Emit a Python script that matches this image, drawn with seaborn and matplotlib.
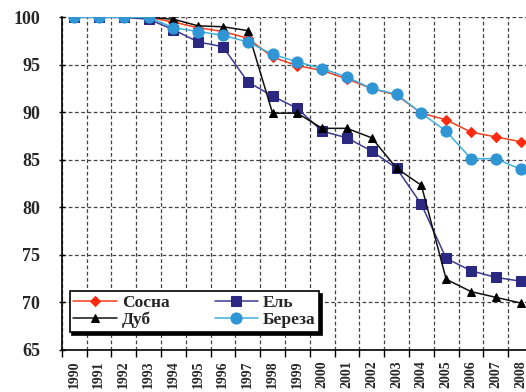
import numpy as np
import pandas as pd
import seaborn as sns
import matplotlib.pyplot as plt
from matplotlib.ticker import FixedLocator

# Data (index, 1990 = 100)
years = [str(y) for y in range(1990, 2009)]
sosna = [100, 100, 100, 100, 99.5, 98.9, 98.5, 97.8, 95.8, 94.9, 94.4, 93.5,
         92.5, 91.8, 89.9, 89.2, 87.9, 87.4, 86.9]
el = [100, 100, 100, 99.8, 98.7, 97.4, 96.9, 93.2, 91.7, 90.4, 88.0, 87.3,
      85.9, 84.1, 80.3, 74.6, 73.3, 72.6, 72.2]
dub = [100, 100, 100, 100, 99.8, 99.1, 99.0, 98.6, 89.9, 89.9, 88.3, 88.3,
       87.3, 84.1, 82.3, 72.4, 71.1, 70.5, 69.9]
bereza = [100, 100, 100, 100, 98.9, 98.5, 98.1, 97.4, 96.1, 95.3, 94.6, 93.7,
          92.5, 91.9, 89.9, 88.0, 85.1, 85.1, 84.0]
y_ticks = [65, 70, 75, 80, 85, 90, 95, 100]

series = [
    ("Сосна", sosna, "#f0401e", "#ff2a10", "D", 5),
    ("Ель", el, "#3c3a90", "#2a2880", "s", 7),
    ("Дуб", dub, "#111111", "#000000", "^", 6),
    ("Береза", bereza, "#3fb0dd", "#2f95d5", "o", 8),
]

sns.set_theme(style="white")
plt.rcParams['font.family'] = ['Liberation Serif', 'DejaVu Serif']
plt.rcParams['font.weight'] = 'bold'

fig = plt.figure(figsize=(5.26, 3.92), dpi=100)
ax = fig.add_axes([0.1173, 0.1084, 0.896, 0.8475])

x = np.arange(len(years))
for name, vals, lc, mc, mk, ms in series:
    sns.lineplot(x=x, y=vals, ax=ax, color=lc, linewidth=1.1, marker=mk,
                 markersize=ms, markerfacecolor=mc, markeredgecolor=mc,
                 label=name, zorder=3)

ax.set_xlim(-0.5, len(years) - 0.5)
ax.set_ylim(65, 100)

# category labels at centres, grid at category boundaries
ax.xaxis.set_major_locator(FixedLocator(x))
ax.set_xticklabels(years, rotation=90, fontsize=10, fontweight='bold')
ax.xaxis.set_minor_locator(FixedLocator(np.arange(len(years) + 1) - 0.5))
ax.tick_params(axis='x', which='major', length=0, pad=8)
ax.tick_params(axis='x', which='minor', length=5, width=1, direction='out',
               color='black', bottom=True)
ax.grid(True, which='minor', axis='x', color='#444444', linestyle=(0, (3, 2)),
        linewidth=0.9)

ax.set_yticks(y_ticks)
ax.set_yticklabels([str(v) for v in y_ticks], fontsize=13, fontweight='bold')
ax.tick_params(axis='y', length=5, width=1, direction='inout', color='black',
               left=True, pad=13)
ax.grid(True, which='major', axis='y', color='#444444', linestyle=(0, (3, 2)),
        linewidth=0.9)

for side in ['top', 'right']:
    ax.spines[side].set_visible(False)
for side in ['left', 'bottom']:
    ax.spines[side].set_color('black')
    ax.spines[side].set_linewidth(1.2)
ax.set_xlabel("")
ax.set_ylabel("")

# row-wise legend order: Сосна, Ель / Дуб, Береза
handles, labels = ax.get_legend_handles_labels()
order = [0, 2, 1, 3]
leg = ax.legend([handles[i] for i in order], [labels[i] for i in order],
                loc='lower left', bbox_to_anchor=(0.017, 0.053), ncol=2,
                frameon=True, fancybox=False, shadow={'color': 'black', 'alpha': 1},
                edgecolor='black', framealpha=1, borderaxespad=0,
                handlelength=2.5, columnspacing=2.6, handletextpad=0.3,
                labelspacing=0.05, borderpad=0.2,
                prop={'family': 'Liberation Serif', 'weight': 'bold', 'size': 12.5})
leg.get_frame().set_linewidth(1.2)
leg.set_zorder(5)

fig.savefig("out.png", dpi=100)
